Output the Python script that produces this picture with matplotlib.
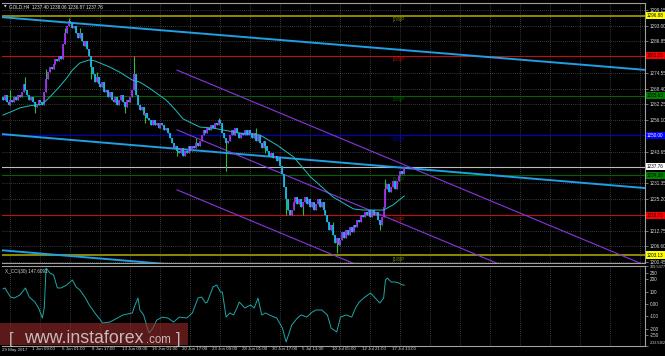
import matplotlib
matplotlib.use("Agg")
import matplotlib.pyplot as plt
import matplotlib.transforms as mtransforms

# H4 closes, one per bar (bar 0 = 29 May 17:00)
closes = [1264, 1266, 1263, 1262, 1264, 1263, 1265, 1264, 1266, 1265, 1267, 1270,
          1268, 1266, 1264, 1265, 1263, 1261, 1262, 1264, 1263, 1262, 1267, 1272, 1275,
          1277, 1276, 1278, 1280, 1279, 1281, 1280, 1286, 1290, 1293, 1295, 1294, 1292,
          1293, 1290, 1288, 1290, 1287, 1285, 1287, 1284, 1281, 1277, 1274, 1271, 1273, 1270,
          1269, 1271, 1267, 1268, 1265, 1267, 1264,
          1263, 1265, 1262, 1264, 1266, 1263, 1261, 1264, 1263, 1265, 1268,
          1274, 1266,
          1262, 1260, 1261, 1258, 1259, 1257, 1256,
          1254, 1256, 1254, 1255, 1253, 1255, 1254, 1252, 1253, 1251,
          1249, 1247, 1245, 1246, 1244,
          1243, 1245, 1242, 1244, 1243, 1246, 1244, 1246, 1245, 1247, 1246, 1248,
          1250, 1252, 1251, 1253, 1252, 1254, 1253, 1255, 1254, 1256, 1255,
          1251, 1249, 1247, 1248, 1250,
          1252, 1250, 1253, 1251, 1249, 1251, 1250, 1252, 1250, 1252, 1251, 1249, 1251, 1248, 1250,
          1247, 1245, 1248, 1246,
          1244, 1242, 1243, 1241, 1242, 1240, 1241, 1238,
          1235, 1230, 1225, 1221,
          1219, 1221, 1224, 1226, 1223, 1225, 1222, 1224, 1226, 1223, 1225, 1222,
          1224, 1221, 1223, 1225, 1222, 1224, 1221, 1219,
          1216, 1213, 1215,
          1211, 1208, 1210, 1207, 1209,
          1212, 1210, 1213, 1211, 1214, 1212,
          1215, 1214, 1217, 1216, 1219, 1218, 1220,
          1219, 1221, 1218, 1221, 1219, 1220,
          1217, 1215, 1218,
          1222, 1229, 1231,
          1228, 1230, 1232, 1229, 1232, 1234,
          1236, 1235, 1237.76]
first_open = 1265
# wick extremes that stick out of the bodies
spike_highs = {4: 1268, 12: 1273, 23: 1276, 33: 1292, 35: 1296, 41: 1292, 50: 1275,
               70: 1281, 103: 1249, 115: 1257, 135: 1253, 176: 1216, 204: 1233, 214: 1238}
spike_lows = {17: 1259, 47: 1272, 65: 1259, 76: 1255, 93: 1242, 119: 1236, 140: 1243,
              151: 1219, 160: 1219, 178: 1204, 201: 1213}

# moving average (bar, value)
ma_bars = [0, 4, 9, 14, 21, 25, 30, 34, 37, 41, 46, 49, 57, 62, 69, 73, 78, 87, 92, 96,
           105, 112, 117, 126, 137, 146, 155, 164, 176, 187, 192, 203, 208, 214]
ma_vals = [1258.0, 1259.2, 1260.8, 1261.6, 1262.3, 1265.1, 1269.0, 1272.5, 1275.6, 1278.4,
           1279.6, 1279.2, 1276.8, 1274.9, 1271.7, 1270.9, 1268.6, 1263.9, 1260.0, 1256.5,
           1253.3, 1252.9, 1252.2, 1251.0, 1250.2, 1246.3, 1241.6, 1233.8, 1225.9, 1221.2,
           1220.8, 1220.8, 1222.8, 1226.3]

# CCI(30)
cci_bars = [0, 1, 4, 6, 9, 12, 14, 17, 19, 21, 22, 23, 25, 27, 29, 31, 34, 37, 39, 41, 44,
            46, 49, 52, 53, 57, 61, 64, 69, 70, 72, 73, 75, 77, 78, 80, 82, 85, 88, 91, 94,
            98, 101, 104, 106, 108, 109, 112, 114, 116, 117, 119, 121, 123, 125, 126, 129,
            132, 134, 136, 138, 140, 142, 146, 149, 151, 154, 157, 159, 162, 165, 167, 170,
            173, 175, 178, 180, 183, 186, 188, 190, 193, 196, 198, 201, 203, 204, 205, 207,
            209, 211, 213, 214]
cci_vals = [121, 129, 56, 48, 72, 129, 56, 16, -32, -113, -32, 289, 249, 233, 129, 129,
            153, 193, 137, 113, 48, -8, -72, -129, -153, -145, -113, -88, -72, -24, 48, -48,
            -88, -193, -233, -193, -129, -105, -113, -145, -105, -113, -72, 48, 56, 8, 16,
            137, 153, 96, 96, -105, -72, -88, -24, 16, -32, -8, -32, 48, -88, -72, -88, -113,
            -193, -305, -169, -113, -88, -105, -64, -48, -48, -88, -193, -225, -105, -88,
            -105, -32, 16, 56, 88, 56, 8, 48, 193, 209, 177, 177, 169, 153, 153]
cci_name = "X_CCI(30) 147.6091"

# trend lines: (bar, price) start and end
blue_lines = [((-1.6, 1296.4), (342.4, 1275.7)),
              ((-1.6, 1250.6), (342.4, 1229.4)),
              ((-1.6, 1205.1), (342.4, 1183.9))]
channel_lines = [((92.8, 1275.6), (342.4, 1199.2)),
                 ((92.8, 1252.2), (342.4, 1175.8)),
                 ((92.8, 1228.7), (342.4, 1152.3))]

# Murray levels
mm_vals = [1296.88, 1281.25, 1265.63, 1250.00, 1234.38, 1218.75, 1203.13]
mm_names = ["[7/8]P", "[6/8]P", "[5/8]P", "[4/8]P", "[3/8]P", "[2/8]P", "[1/8]P"]
mm_colors = ["#8c8c00", "#c01010", "#006400", "#0000c8", "#006400", "#c01010", "#8c8c00"]
mm_box = ["#ffff00", "#ff0000", "#008000", "#0000ff", "#008000", "#ff0000", "#ffff00"]
mm_txt = ["black", "black", "black", "white", "black", "black", "black"]
last_price = 1237.76

price_ticks = [1299.15, 1293.00, 1286.85, 1274.55, 1268.40, 1262.25, 1256.10,
               1243.65, 1231.35, 1225.20, 1212.75, 1206.60, 1200.45]
cci_ticks = [309.5377, 250, 200, 100, 0, -100, -200, -250, -333.5362]
cci_labels = ["309.5377", "250", "200", "100", "0.00", "-100", "-200", "-250", "-333.5362"]
cci_levels = [200, 100, 0, -100, -200, -250]

time_bars = [0, 16, 32, 48, 64, 80, 96, 112, 128, 144, 160, 176, 192, 208]
time_labels = ["29 May 2017", "1 Jun 09:00", "6 Jun 01:00", "8 Jun 17:00", "13 Jun 09:00",
               "16 Jun 01:00", "20 Jun 17:00", "23 Jun 09:00", "28 Jun 01:00", "30 Jun 17:00",
               "5 Jul 13:00", "10 Jul 05:00", "12 Jul 21:00", "17 Jul 13:00"]
header = "GOLD,H4  1237.40 1238.06 1236.87 1237.76"

W, H = 665, 356
fnt = "Liberation Sans"
fs = 3.3
axcol = "#a0a0a0"
gridcol = "#6e6e6e"
labcol = "#d8d8d8"

fig = plt.figure(figsize=(W / 100, H / 100), dpi=100, facecolor="black")
ax = fig.add_axes([2 / W, 1 - 263 / H, 643 / W, 260.5 / H], facecolor="black")
ax2 = fig.add_axes([2 / W, 1 - 345.5 / H, 643 / W, 80 / H], facecolor="black", sharex=ax)

xmin, xmax = -0.53, 342.4
ax.set_xlim(xmin, xmax)
ax.set_ylim(1200.05, 1302.09)
ax2.set_ylim(-333.5362, 309.5377)

for a in (ax, ax2):
    a.spines["left"].set_visible(False)
    for s in ("top", "right", "bottom"):
        a.spines[s].set_color(axcol)
        a.spines[s].set_linewidth(0.8)
    a.yaxis.tick_right()
    a.tick_params(axis="y", direction="out", length=2, width=0.5, color=axcol,
                  labelsize=fs, labelcolor=labcol, pad=1.2)
    a.tick_params(axis="x", length=0, labelbottom=False)
    a.set_xticks([b + 4 for b in time_bars] + [b + 4 for b in range(224, 340, 16)])
    a.grid(True, color=gridcol, linestyle=(0, (1, 2)), linewidth=0.5)
    a.set_axisbelow(True)

ax.set_yticks(price_ticks)
ax.set_yticklabels(["%.2f" % v for v in price_ticks], fontfamily=fnt)
ax2.set_yticks(cci_ticks)
ax2.set_yticklabels(cci_labels, fontfamily=fnt)
ylabs = ax2.get_yticklabels()
ylabs[0].set_fontsize(2.8)
ylabs[0].set_va("top")
ylabs[-1].set_fontsize(2.55)
ylabs[-1].set_va("bottom")
ax2.set_yticks(cci_levels, minor=True)
ax2.grid(False)
ax2.grid(True, axis="x", color=gridcol, linestyle=(0, (1, 2)), linewidth=0.5)
ax2.grid(True, axis="y", which="minor", color=gridcol, linestyle=(0, (1, 2)), linewidth=0.5)
ax2.tick_params(axis="y", which="minor", length=0)

# Murray levels
trans = mtransforms.blended_transform_factory(ax.transAxes, ax.transData)
for v, name, c, bc, tc in zip(mm_vals, mm_names, mm_colors, mm_box, mm_txt):
    lw = 1.4 if bc == "#ffff00" else 0.8
    ax.axhline(v, color=c, lw=lw, zorder=1)
    ax.text(208, v - 0.6, name, color=c, fontsize=fs, fontfamily=fnt, va="top", ha="left",
            zorder=1)
    ax.text(1.003, v, "%.2f" % v, transform=trans, fontsize=fs, fontfamily=fnt, color=tc,
            va="center", ha="left", clip_on=False, zorder=5,
            bbox=dict(boxstyle="square,pad=0.25", fc=bc, ec="none"))
ax.axhline(last_price, color="#bdbdbd", lw=0.8, zorder=1)
ax.text(1.003, last_price, "%.2f" % last_price, transform=trans, fontsize=fs, fontfamily=fnt,
        color="black", va="center", ha="left", clip_on=False, zorder=5,
        bbox=dict(boxstyle="square,pad=0.25", fc="white", ec="none"))

# trend lines
for (p0, p1) in blue_lines:
    ax.plot([p0[0], p1[0]], [p0[1], p1[1]], color="#1e9fe6", lw=1.4, zorder=2)
for (p0, p1) in channel_lines:
    ax.plot([p0[0], p1[0]], [p0[1], p1[1]], color="#8a35e0", lw=0.8, zorder=2)

# candles
prev = first_open
for i, c in enumerate(closes):
    o = prev
    hi = max(spike_highs.get(i, max(o, c)), max(o, c))
    lo = min(spike_lows.get(i, min(o, c)), min(o, c))
    up = c >= o
    ax.plot([i, i], [lo, hi], color="#2ebd3a", lw=0.8, zorder=3, solid_capstyle="butt")
    body_lo, body_hi = min(o, c), max(o, c)
    if body_hi - body_lo < 0.3:
        body_hi += 0.15
        body_lo -= 0.15
    ax.plot([i, i], [body_lo, body_hi], color="#a52af5" if up else "#18b4f0", lw=1.3,
            zorder=4, solid_capstyle="butt")
    prev = c

ax.plot(ma_bars, ma_vals, color="#1fc0c0", lw=0.7, zorder=5)

ax2.plot(cci_bars, cci_vals, color="#1fa8a8", lw=0.7)
ax2.text(0.004, 0.95, cci_name, transform=ax2.transAxes, color=labcol, fontsize=fs,
         fontfamily=fnt, va="top", ha="left")

ax.text(0.011, 0.993, header, transform=ax.transAxes, color="#e8e8e8",
        fontsize=fs, fontfamily=fnt, va="top", ha="left")
ax.text(0.003, 0.993, "\u25bc", transform=ax.transAxes, color="#e8e8e8",
        fontsize=2.5, fontfamily="DejaVu Sans", va="top", ha="left")

# time scale
tt = mtransforms.blended_transform_factory(ax2.transData, fig.transFigure)
for b, lab in zip(time_bars, time_labels):
    ax2.text(b - 0.5, 1 - 347.5 / H, lab, transform=tt, color=labcol, fontsize=3.2,
             fontfamily=fnt, va="top", ha="left", clip_on=False)

# watermark
fig.patches.append(plt.Rectangle((0, 1 - 345 / H), 188 / W, 22 / H, transform=fig.transFigure,
                                 facecolor="#9a2a2a", alpha=0.6, edgecolor="none", zorder=10))
wm = "#c4bcbc"
fig.text(9 / W, 1 - 344 / H, "[", color=wm, fontsize=12, fontfamily=fnt, va="baseline",
         ha="left", zorder=11)
fig.text(24 / W, 1 - 343 / H, "www.instaforex", color=wm, fontsize=12.8, fontfamily=fnt,
         va="baseline", ha="left", zorder=11)
fig.text(146 / W, 1 - 343 / H, ".com", color=wm, fontsize=8.3, fontfamily=fnt,
         va="baseline", ha="left", zorder=11)
fig.text(176 / W, 1 - 344 / H, "]", color=wm, fontsize=12, fontfamily=fnt, va="baseline",
         ha="left", zorder=11)

fig.savefig("out.png", dpi=100, facecolor="black")
